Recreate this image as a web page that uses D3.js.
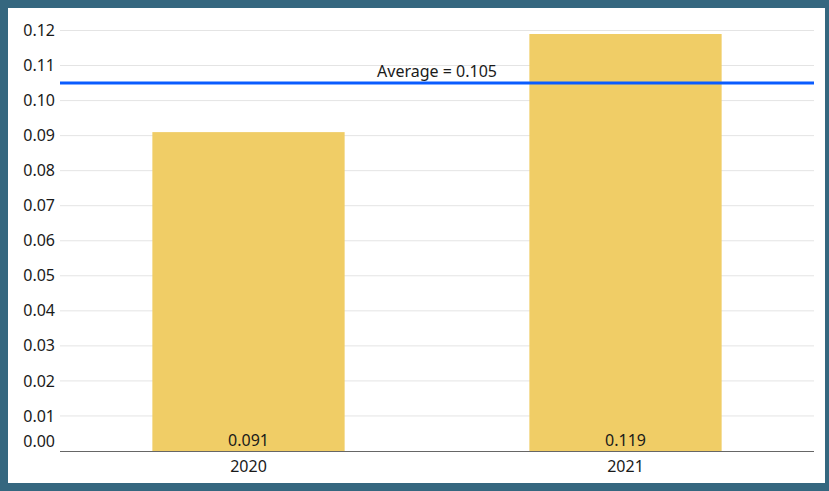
<!DOCTYPE html>
<html>
<head>
<meta charset="utf-8">
<script src="https://cdn.jsdelivr.net/npm/d3@7"></script>
<style>
  html, body { margin: 0; padding: 0; background: #35677f; }
  #frame { position: absolute; left: 8px; top: 8px; width: 817px; height: 475px; background: #fff; }
  svg { display: block; }
  text { font-family: "Noto Sans", "Open Sans", sans-serif; fill: #1a1a1a; }
</style>
</head>
<body>
<div id="frame"></div>
<script>
// Yearly values
const years = ["2020", "2021"];
const values = [0.091, 0.119];
const yTicks = [0, 0.01, 0.02, 0.03, 0.04, 0.05, 0.06, 0.07, 0.08, 0.09, 0.10, 0.11, 0.12];
const averageValue = 0.105;

const W = 817, H = 475;
// plot area in frame coordinates
const plotLeft = 52, plotRight = 806, plotTop = 22.5, plotBottom = 443;
const fontSize = 16;

const svg = d3.select("#frame").append("svg").attr("width", W).attr("height", H);

const x = d3.scaleBand().domain(years).range([plotLeft, plotRight]).paddingInner(0.49).paddingOuter(0.245);
const y = d3.scaleLinear().domain([0, 0.12]).range([plotBottom, plotTop]);

// gridlines
svg.append("g").selectAll("line").data(yTicks.filter(d => d > 0)).join("line")
  .attr("x1", plotLeft).attr("x2", plotRight)
  .attr("y1", d => y(d)).attr("y2", d => y(d))
  .attr("stroke", "#e4e4e4").attr("stroke-width", 1);

// y tick labels (zero label sits a little above its line)
svg.append("g").selectAll("text").data(yTicks).join("text")
  .attr("x", 47).attr("y", d => y(d) - (d === 0 ? 10 : 0))
  .attr("dy", "0.35em").attr("text-anchor", "end")
  .attr("font-size", fontSize)
  .text(d => d3.format(".2f")(d));

// bars
svg.append("g").selectAll("rect").data(values).join("rect")
  .attr("x", (d, i) => x(years[i])).attr("width", x.bandwidth())
  .attr("y", d => y(d)).attr("height", d => y(0) - y(d))
  .attr("fill", "#f0cd66");

// value labels at the bar base
svg.append("g").selectAll("text").data(values).join("text")
  .attr("x", (d, i) => x(years[i]) + x.bandwidth() / 2)
  .attr("y", y(0) - 5)
  .attr("text-anchor", "middle").attr("font-size", fontSize)
  .text(d => d3.format(".3f")(d));

// baseline axis
svg.append("line").attr("x1", plotLeft).attr("x2", plotRight)
  .attr("y1", y(0) + 0.5).attr("y2", y(0) + 0.5)
  .attr("stroke", "#666").attr("stroke-width", 1);

// x labels
svg.append("g").selectAll("text").data(years).join("text")
  .attr("x", d => x(d) + x.bandwidth() / 2)
  .attr("y", y(0) + 21)
  .attr("text-anchor", "middle").attr("font-size", fontSize)
  .text(d => d);

// average reference line
svg.append("line").attr("x1", plotLeft).attr("x2", plotRight)
  .attr("y1", y(averageValue)).attr("y2", y(averageValue))
  .attr("stroke", "#0a5cff").attr("stroke-width", 3);
svg.append("text")
  .attr("x", (plotLeft + plotRight) / 2).attr("y", y(averageValue) - 6)
  .attr("text-anchor", "middle").attr("font-size", fontSize)
  .text("Average = " + d3.format(".3f")(averageValue));
</script>
</body>
</html>
